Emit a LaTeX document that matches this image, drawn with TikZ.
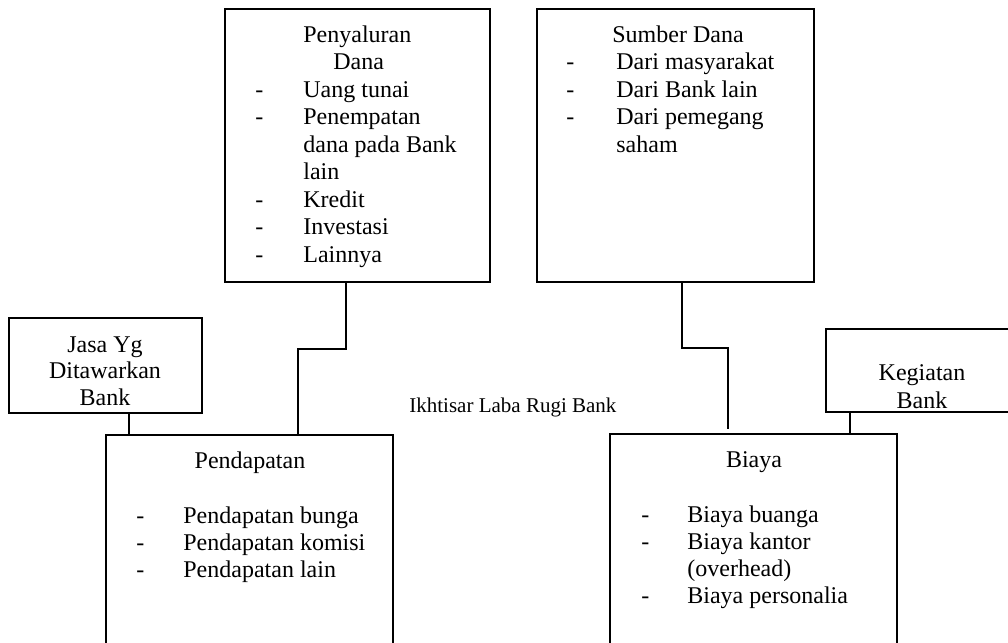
\documentclass[tikz,border=0pt]{standalone}
\usepackage{fontspec}
\setmainfont{Liberation Serif}
\usetikzlibrary{fit}
\begin{document}
\begin{tikzpicture}[x=0.5pt,y=-0.5pt,
  box/.style={draw,line width=1pt,inner sep=0pt,rectangle},
  conn/.style={line width=1pt},
  txt/.style={inner sep=0pt,anchor=base west,font=\fontsize{12}{14}\selectfont},
  ctxt/.style={inner sep=0pt,anchor=base,font=\fontsize{12}{14}\selectfont},
  small/.style={inner sep=0pt,anchor=base west,font=\fontsize{10.5}{12}\selectfont}]
\useasboundingbox (0,0) rectangle (1008,643);
\clip (0,0) rectangle (1008,643);
% boxes
\node[box,fit={(225,9) (490,282)}] (peny) {};
\node[box,fit={(537,9) (814,282)}] (sumb) {};
\node[box,fit={(9,318) (202,413)}] (jasa) {};
\node[box,fit={(826,329) (1030,412)}] (keg) {};
\node[box,fit={(106,435) (393,680)}] (pend) {};
\node[box,fit={(610,434) (897,680)}] (biaya) {};
% helper x positions
\path (129,0) coordinate (xj) (346,0) coordinate (xp1) (298,0) coordinate (xp2)
      (682,0) coordinate (xs1) (850,0) coordinate (xk);
\coordinate (gapend) at (728,429);
% connectors
\draw[conn] (peny.south -| xp1) -- ++(0,66) -| (pend.north -| xp2);
\draw[conn] (sumb.south -| xs1) -- ++(0,65) -| (gapend);
\draw[conn] (jasa.south -| xj) -- (pend.north -| xj);
\draw[conn] (keg.south -| xk) -- (biaya.north -| xk);
% Penyaluran Dana
\node[txt] (p0) at (303,42) {Penyaluran};
\node[txt] (p1) at (333,69.5) {Dana};
\node[txt] (pd1) at (255,97) {-};
\node[txt] (pi1) at (303,97) {Uang tunai};
\node[txt] (pd2) at (255,124.5) {-};
\node[txt] (pi2) at (303,124.5) {Penempatan};
\node[txt] (pi3) at (303,152) {dana pada Bank};
\node[txt] (pi4) at (303,179.5) {lain};
\node[txt] (pd5) at (255,207) {-};
\node[txt] (pi5) at (303,207) {Kredit};
\node[txt] (pd6) at (255,234.5) {-};
\node[txt] (pi6) at (303,234.5) {Investasi};
\node[txt] (pd7) at (255,262) {-};
\node[txt] (pi7) at (303,262) {Lainnya};
% Sumber Dana
\node[txt] (s0) at (612,42) {Sumber Dana};
\node[txt] (sd1) at (566,69.5) {-};
\node[txt] (si1) at (616,69.5) {Dari masyarakat};
\node[txt] (sd2) at (566,97) {-};
\node[txt] (si2) at (616,97) {Dari Bank lain};
\node[txt] (sd3) at (566,124.5) {-};
\node[txt] (si3) at (616,124.5) {Dari pemegang};
\node[txt] (si4) at (616,152) {saham};
% Jasa
\node[ctxt] (j1) at (105,352) {Jasa Yg};
\node[ctxt] (j2) at (105,378.5) {Ditawarkan};
\node[ctxt] (j3) at (105,405) {Bank};
% Kegiatan
\node[ctxt] (k1) at (922,380) {Kegiatan};
\node[ctxt] (k2) at (922,408) {Bank};
% middle label
\node[small] (ikh) at (409,412) {Ikhtisar Laba Rugi Bank};
% Pendapatan
\node[ctxt] (e0) at (250,468) {Pendapatan};
\node[txt] (ed1) at (136,523) {-};
\node[txt] (ei1) at (183,523) {Pendapatan bunga};
\node[txt] (ed2) at (136,550) {-};
\node[txt] (ei2) at (183,550) {Pendapatan komisi};
\node[txt] (ed3) at (136,577.5) {-};
\node[txt] (ei3) at (183,577.5) {Pendapatan lain};
% Biaya
\node[ctxt] (b0) at (754,467) {Biaya};
\node[txt] (bd1) at (641,522) {-};
\node[txt] (bi1) at (687,522) {Biaya buanga};
\node[txt] (bd2) at (641,549.5) {-};
\node[txt] (bi2) at (687,549.5) {Biaya kantor};
\node[txt] (bi3) at (687,576.5) {(overhead)};
\node[txt] (bd4) at (641,603.5) {-};
\node[txt] (bi4) at (687,603.5) {Biaya personalia};
\end{tikzpicture}
\end{document}
